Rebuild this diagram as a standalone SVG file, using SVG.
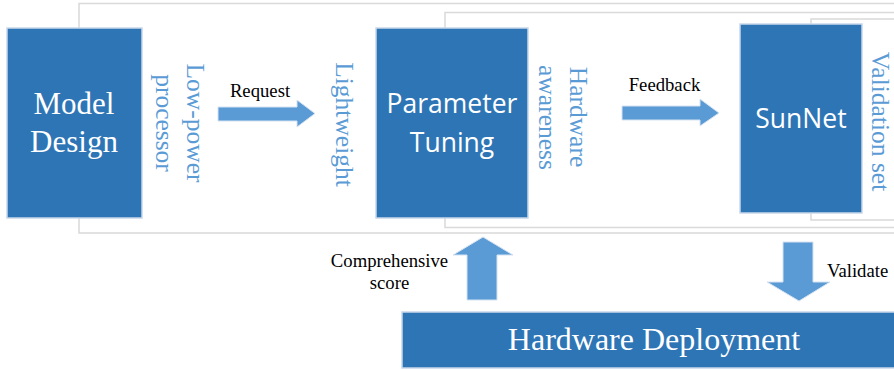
<svg xmlns="http://www.w3.org/2000/svg" width="894" height="370" viewBox="0 0 894 370">
  <style>
    .frame { fill: #ffffff; stroke: #d9d9d9; stroke-width: 1.5; }
    .box { fill: #2e75b6; stroke: #c9d8ea; stroke-width: 1.5; }
    .serifW { font-family: "Liberation Serif", "Times New Roman", serif; fill: #ffffff; }
    .sansW { font-family: "Open Sans", "Noto Sans", sans-serif; fill: #ffffff; font-size: 26.5px; }
    .vlab { font-family: "Liberation Serif", "Times New Roman", serif; fill: #5b9bd5; font-size: 25.5px; text-anchor: middle; }
    .lab { font-family: "Liberation Serif", "Times New Roman", serif; fill: #000000; font-size: 18.7px; }
    .arrow { fill: #5b9bd5; stroke: #d5e2f1; stroke-width: 1; }
  </style>
  <rect x="0" y="0" width="894" height="370" fill="#ffffff"/>
  <g id="frames">
    <rect class="frame" x="79" y="3.5" width="830" height="229.5"/>
    <rect class="frame" x="445" y="12.5" width="460" height="215"/>
    <rect class="frame" x="811" y="19" width="100" height="201"/>
  </g>
  <g id="connectors">
    <polygon class="arrow" points="218,107 297,107 297,100 315,113.5 297,127 297,121 218,121"/>
    <polygon class="arrow" points="622,106 700,106 700,99 719,113 700,126 700,120 622,120"/>
    <polygon class="arrow" points="467,300 467,255 453,255 483,237 513,255 497,255 497,300"/>
    <polygon class="arrow" points="783,242 813,242 813,282 830,282 799,301 767,282 783,282"/>
  </g>
  <g id="node-model-design">
    <rect class="box" x="7" y="28" width="135" height="190"/>
    <text class="serifW" font-size="31" text-anchor="middle" x="74" y="114">Model</text>
    <text class="serifW" font-size="31" text-anchor="middle" x="74" y="152">Design</text>
  </g>
  <g id="node-parameter-tuning">
    <rect class="box" x="376" y="28" width="152" height="190"/>
    <text class="sansW" text-anchor="middle" x="452" y="113">Parameter</text>
    <text class="sansW" text-anchor="middle" x="452" y="152">Tuning</text>
  </g>
  <g id="node-sunnet">
    <rect class="box" x="740" y="24" width="122" height="189"/>
    <text class="sansW" text-anchor="middle" x="801" y="128">SunNet</text>
  </g>
  <g id="node-hardware-deployment">
    <rect class="box" x="402" y="312" width="500" height="56"/>
    <text class="serifW" font-size="32" text-anchor="middle" x="654" y="350">Hardware Deployment</text>
  </g>
  <g id="side-labels">
    <text class="vlab" transform="translate(187,123) rotate(90)">Low-power</text>
    <text class="vlab" transform="translate(155.5,123) rotate(90)">processor</text>
    <text class="vlab" transform="translate(336,124.5) rotate(90)">Lightweight</text>
    <text class="vlab" transform="translate(570,117) rotate(90)">Hardware</text>
    <text class="vlab" transform="translate(538.5,117.5) rotate(90)">awareness</text>
    <text class="vlab" transform="translate(871.5,121.5) rotate(90)">Validation set</text>
  </g>
  <g id="connector-labels">
    <text class="lab" text-anchor="middle" x="260" y="97">Request</text>
    <text class="lab" text-anchor="middle" x="664.5" y="91">Feedback</text>
    <text class="lab" text-anchor="middle" x="389.5" y="267">Comprehensive</text>
    <text class="lab" text-anchor="middle" x="389.5" y="289">score</text>
    <text class="lab" x="827" y="277">Validate</text>
  </g>
</svg>
